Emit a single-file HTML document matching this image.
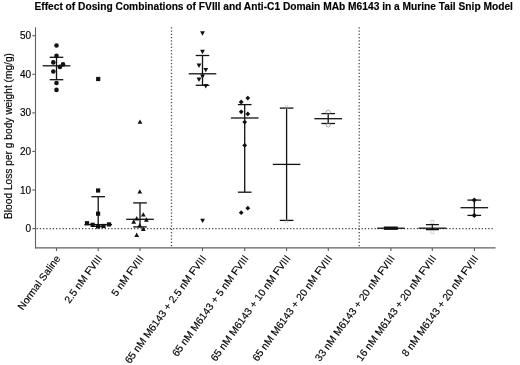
<!DOCTYPE html><html><head><meta charset="utf-8"><title>Chart</title><style>html,body{margin:0;padding:0;background:#fff}svg{display:block}text{font-family:"Liberation Sans",Arial,sans-serif;fill:#000;stroke:#000;stroke-width:0.15px}</style></head><body>
<svg width="520" height="365" viewBox="0 0 520 365">
<rect width="520" height="365" fill="#fff"/>
<text x="273.7" y="10.2" font-size="10" font-weight="bold" text-anchor="middle" textLength="478.5" lengthAdjust="spacingAndGlyphs">Effect of Dosing Combinations of FVIII and Anti-C1 Domain MAb M6143 in a Murine Tail Snip Model</text>
<text transform="translate(12.3,136) rotate(-90)" font-size="10" text-anchor="middle" textLength="166" lengthAdjust="spacingAndGlyphs">Blood Loss per g body weight (mg/g)</text>
<g stroke="#606060" stroke-width="1.1" fill="none">
<path d="M35.5 27.3V248.4"/>
<path d="M35 247.9H495.6"/>
<path d="M32.3 228.6H35.5"/>
<path d="M32.3 190.0H35.5"/>
<path d="M32.3 151.4H35.5"/>
<path d="M32.3 112.9H35.5"/>
<path d="M32.3 74.3H35.5"/>
<path d="M32.3 35.7H35.5"/>
<path d="M56.5 247.9V251.0"/>
<path d="M98.2 247.9V251.0"/>
<path d="M140 247.9V251.0"/>
<path d="M202.5 247.9V251.0"/>
<path d="M244.7 247.9V251.0"/>
<path d="M286.6 247.9V251.0"/>
<path d="M328.3 247.9V251.0"/>
<path d="M390.9 247.9V251.0"/>
<path d="M432.3 247.9V251.0"/>
<path d="M474.4 247.9V251.0"/>
</g>
<g stroke="#4a4a4a" stroke-width="1.3" stroke-dasharray="1.3 1.95" fill="none">
<path d="M36.5 228.6H494.5"/>
<path d="M171.5 27.2V248.3"/>
<path d="M359.2 27.2V248.3"/>
</g>
<text x="31" y="232.1" font-size="10" text-anchor="end">0</text>
<text x="31" y="193.5" font-size="10" text-anchor="end">10</text>
<text x="31" y="154.9" font-size="10" text-anchor="end">20</text>
<text x="31" y="116.4" font-size="10" text-anchor="end">30</text>
<text x="31" y="77.8" font-size="10" text-anchor="end">40</text>
<text x="31" y="39.2" font-size="10" text-anchor="end">50</text>
<text transform="translate(60.8,258.5) rotate(-54)" font-size="10.3" text-anchor="end">Normal Saline</text>
<text transform="translate(102.5,258.5) rotate(-54)" font-size="10.3" text-anchor="end">2.5 nM FVIII</text>
<text transform="translate(144.3,258.5) rotate(-54)" font-size="10.3" text-anchor="end">5 nM FVIII</text>
<text transform="translate(206.8,258.5) rotate(-54)" font-size="10.3" text-anchor="end">65 nM M6143 + 2.5 nM FVIII</text>
<text transform="translate(249.0,258.5) rotate(-54)" font-size="10.3" text-anchor="end">65 nM M6143 + 5 nM FVIII</text>
<text transform="translate(290.9,258.5) rotate(-54)" font-size="10.3" text-anchor="end">65 nM M6143 + 10 nM FVIII</text>
<text transform="translate(332.6,258.5) rotate(-54)" font-size="10.3" text-anchor="end">65 nM M6143 + 20 nM FVIII</text>
<text transform="translate(395.2,258.5) rotate(-54)" font-size="10.3" text-anchor="end">33 nM M6143 + 20 nM FVIII</text>
<text transform="translate(436.6,258.5) rotate(-54)" font-size="10.3" text-anchor="end">16 nM M6143 + 20 nM FVIII</text>
<text transform="translate(478.7,258.5) rotate(-54)" font-size="10.3" text-anchor="end">8 nM M6143 + 20 nM FVIII</text>
<g stroke="#111" stroke-width="1.3" fill="none"><path d="M42.7 65.8H70.3"/><path d="M49.7 57.3H63.3"/><path d="M49.7 79.7H63.3"/><path d="M56.5 57.3V79.7"/></g>
<g stroke="#111" stroke-width="1.3" fill="none"><path d="M84.4 224.6H112.0"/><path d="M91.4 196.7H105.0"/><path d="M91.4 226.3H105.0"/><path d="M98.2 196.7V226.3"/></g>
<g stroke="#111" stroke-width="1.3" fill="none"><path d="M126.2 219.3H153.8"/><path d="M133.2 202.9H146.8"/><path d="M133.2 226.9H146.8"/><path d="M140.0 202.9V226.9"/></g>
<g stroke="#111" stroke-width="1.3" fill="none"><path d="M188.7 73.8H216.3"/><path d="M195.7 55.5H209.3"/><path d="M195.7 85.3H209.3"/><path d="M202.5 55.5V85.3"/></g>
<g stroke="#111" stroke-width="1.3" fill="none"><path d="M230.9 118.0H258.5"/><path d="M237.9 104.6H251.5"/><path d="M237.9 192.2H251.5"/><path d="M244.7 104.6V192.2"/></g>
<g stroke="#111" stroke-width="1.3" fill="none"><path d="M272.8 164.4H300.4"/><path d="M279.8 108.1H293.4"/><path d="M279.8 220.4H293.4"/><path d="M286.6 108.1V220.4"/></g>
<g stroke="#111" stroke-width="1.3" fill="none"><path d="M314.4 118.7H342.0"/><path d="M321.4 113.6H335.0"/><path d="M321.4 123.5H335.0"/><path d="M328.2 113.6V123.5"/></g>
<g stroke="#111" stroke-width="1.3" fill="none"><path d="M460.5 207.7H488.1"/><path d="M467.5 200.1H481.1"/><path d="M467.5 215.4H481.1"/><path d="M474.3 200.1V215.4"/></g>
<g stroke="#111" fill="none"><path d="M377.2 228.2H404.7" stroke-width="1.3"/><path d="M383.8 228.2H397.8" stroke-width="3.4"/></g>
<g stroke="#111" fill="none"><path d="M418.5 228.2H446.3" stroke-width="1.3"/><path d="M425.9 224.7H438.9M425.9 229.7H438.9" stroke-width="1.2"/><path d="M432.3 225V230"  stroke-width="1.2"/></g>
<g stroke="#888" stroke-width="0.7" fill="none"><circle cx="328.2" cy="112.2" r="2.1"/><circle cx="328.2" cy="124.9" r="2.1"/></g><g stroke="#aaa" stroke-width="0.5" fill="none"><circle cx="286.6" cy="107.3" r="1.6"/><circle cx="286.6" cy="221.2" r="1.6"/><rect x="430.9" y="220.6" width="3" height="3"/><rect x="430.9" y="230.4" width="3" height="3"/></g>
<circle cx="56.5" cy="45.5" r="2.3" fill="#111"/>
<circle cx="56.5" cy="55.9" r="2.3" fill="#111"/>
<circle cx="53.3" cy="62.4" r="2.3" fill="#111"/>
<circle cx="63" cy="64.4" r="2.3" fill="#111"/>
<circle cx="59.9" cy="66.9" r="2.3" fill="#111"/>
<circle cx="53.3" cy="71.5" r="2.3" fill="#111"/>
<circle cx="56.5" cy="83" r="2.3" fill="#111"/>
<circle cx="56.5" cy="89.9" r="2.3" fill="#111"/>
<rect x="96.1" y="76.9" width="4.2" height="4.2" fill="#111"/>
<rect x="96.0" y="188.4" width="4.2" height="4.2" fill="#111"/>
<rect x="96.0" y="211.6" width="4.2" height="4.2" fill="#111"/>
<rect x="84.9" y="221.1" width="4.2" height="4.2" fill="#111"/>
<rect x="90.5" y="222.7" width="4.2" height="4.2" fill="#111"/>
<rect x="96.0" y="224.4" width="4.2" height="4.2" fill="#111"/>
<rect x="101.4" y="223.9" width="4.2" height="4.2" fill="#111"/>
<rect x="106.9" y="222.3" width="4.2" height="4.2" fill="#111"/>
<path d="M137.6 123.8H142.4L140.0 119.4Z" fill="#111"/>
<path d="M137.4 193.6H142.2L139.8 189.2Z" fill="#111"/>
<path d="M140.9 216.6H145.7L143.3 212.2Z" fill="#111"/>
<path d="M134.3 220.5H139.1L136.7 216.1Z" fill="#111"/>
<path d="M144.0 221.7H148.8L146.4 217.3Z" fill="#111"/>
<path d="M131.3 223.7H136.1L133.7 219.3Z" fill="#111"/>
<path d="M137.4 227.4H142.2L139.8 223.0Z" fill="#111"/>
<path d="M140.9 230.9H145.7L143.3 226.5Z" fill="#111"/>
<path d="M134.3 236.9H139.1L136.7 232.5Z" fill="#111"/>
<path d="M200.1 31.3H204.9L202.5 35.7Z" fill="#111"/>
<path d="M200.1 49.8H204.9L202.5 54.2Z" fill="#111"/>
<path d="M196.6 63.6H201.4L199.0 68.0Z" fill="#111"/>
<path d="M203.4 67.9H208.2L205.8 72.3Z" fill="#111"/>
<path d="M200.1 74.5H204.9L202.5 78.9Z" fill="#111"/>
<path d="M196.6 77.5H201.4L199.0 81.9Z" fill="#111"/>
<path d="M203.4 84.1H208.2L205.8 88.5Z" fill="#111"/>
<path d="M200.2 218.7H205.0L202.6 223.1Z" fill="#111"/>
<path d="M245.4 98.1L247.8 95.7L250.2 98.1L247.8 100.5Z" fill="#111"/>
<path d="M238.8 102.0L241.2 99.6L243.6 102.0L241.2 104.4Z" fill="#111"/>
<path d="M238.8 111.8L241.2 109.4L243.6 111.8L241.2 114.2Z" fill="#111"/>
<path d="M245.4 113.9L247.8 111.5L250.2 113.9L247.8 116.3Z" fill="#111"/>
<path d="M242.3 122.1L244.7 119.7L247.1 122.1L244.7 124.5Z" fill="#111"/>
<path d="M242.3 145.3L244.7 142.9L247.1 145.3L244.7 147.7Z" fill="#111"/>
<path d="M245.4 208.2L247.8 205.8L250.2 208.2L247.8 210.6Z" fill="#111"/>
<path d="M238.8 212.7L241.2 210.3L243.6 212.7L241.2 215.1Z" fill="#111"/>
<path d="M471.7 200.1L474.3 197.5L476.9 200.1L474.3 202.7Z" fill="#111"/>
<path d="M471.7 215.4L474.3 212.8L476.9 215.4L474.3 218.0Z" fill="#111"/>
</svg></body></html>
